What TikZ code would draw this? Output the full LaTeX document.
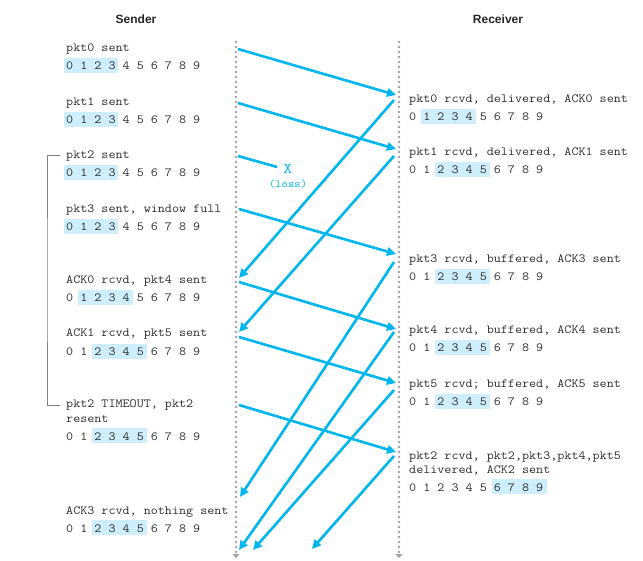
\documentclass[tikz,border=0pt]{standalone}
\usepackage{fontspec}
\setmainfont{Liberation Sans}
\newfontfamily\pktfont{Latin Modern Mono}[FakeStretch = 1.105]
\usetikzlibrary{positioning, calc, arrows.meta, backgrounds}
\definecolor{pktblue}{HTML}{00B6EF}
\definecolor{winblue}{HTML}{CDEEFA}
\definecolor{lanegray}{HTML}{A0A0A0}
\definecolor{txtgray}{HTML}{2E2E2E}
\newlength{\charw}
\setlength{\charw}{7.14pt}
\tikzset{
  > = {Triangle[length = 9pt, width = 8.5pt]},
  title/.style = {font = \normalfont\bfseries\fontsize{12}{14}\selectfont, text = black!85},
  event/.style = {font = \pktfont\fontsize{12.4}{14}\selectfont, text = txtgray,
    inner sep = 0, anchor = base west, align = left},
  seqrow/.style = {event},
  lane/.style = {lanegray, line width = 2.6pt, line cap = round,
    dash pattern = on 0pt off 5pt, -{Triangle[length = 4pt, width = 7pt]}},
  packet/.style = {->, pktblue, line width = 2.6pt},
  lost/.style = {pktblue, line width = 2.6pt},
  timer/.style = {draw = gray, line width = 0.8pt}
}
%% sequence numbers with the window shaded: name, base point, first, last
\newcommand {\seqwin} [4] {
  \node [seqrow] (#1) at (#2) {0 1 2 3 4 5 6 7 8 9};
  \begin{scope} [on background layer]
  \fill [winblue] ($(#1.base west)+({2*#3*\charw-2.5pt}, -3pt)$)
    rectangle ($(#1.base west)+({(2*#4+1)*\charw+2.5pt}, 12pt)$);
  \end{scope}
}

\begin{document}
\begin{tikzpicture}[x = 1pt, y = -1pt]
\useasboundingbox (0,0) rectangle (643,561);

%% Titles
\node [title] (sender) at (136,19) {Sender};
\node [title] (receiver) at (498,19) {Receiver};

%% Lanes
\coordinate (stop) at (236,42);
\coordinate (sbot) at (236,558);
\coordinate (rtop) at (399,42);
\coordinate (rbot) at (399,558);
\draw [lane] (stop) -- (sbot);
\draw [lane] (rtop) -- (rbot);

%% Sender events
\node [event] (s0) at (66,52) {pkt0 sent};
\seqwin{s0w}{66,70}{0}{3}
\node [event] (s1) at (66,106) {pkt1 sent};
\seqwin{s1w}{66,124}{0}{3}
\node [event] (s2) at (66,159) {pkt2 sent};
\seqwin{s2w}{66,177}{0}{3}
\node [event] (s3) at (66,213) {pkt3 sent, window full};
\seqwin{s3w}{66,231}{0}{3}
\node [event] (s4) at (66,284) {ACK0 rcvd, pkt4 sent};
\seqwin{s4w}{66,302}{1}{4}
\node [event] (s5) at (66,337) {ACK1 rcvd, pkt5 sent};
\seqwin{s5w}{66,356}{2}{5}
\node [event] (s6) at (66,422) {pkt2 TIMEOUT, pkt2\\resent};
\seqwin{s6w}{66,440}{2}{5}
\node [event] (s7) at (66,514) {ACK3 rcvd, nothing sent};
\seqwin{s7w}{66,532}{2}{5}

%% Receiver events
\node [event] (r0) at (409,103) {pkt0 rcvd, delivered, ACK0 sent};
\seqwin{r0w}{409,121}{1}{4}
\node [event] (r1) at (409,156) {pkt1 rcvd, delivered, ACK1 sent};
\seqwin{r1w}{409,174}{2}{5}
\node [event] (r3) at (409,263) {pkt3 rcvd, buffered, ACK3 sent};
\seqwin{r3w}{409,281}{2}{5}
\node [event] (r4) at (409,334) {pkt4 rcvd, buffered, ACK4 sent};
\seqwin{r4w}{409,352}{2}{5}
\node [event] (r5) at (409,388) {pkt5 rcvd; buffered, ACK5 sent};
\seqwin{r5w}{409,406}{2}{5}
\node [event] (r2) at (409,473) {pkt2 rcvd, pkt2,pkt3,pkt4,pkt5\\delivered, ACK2 sent};
\seqwin{r2w}{409,491}{6}{9}

%% Timer of pkt2
\coordinate (t0) at (60,155);
\coordinate (t1) at (60,405);
\draw [timer] (t0) -| (47,280) |- (t1);

%% Packets
\coordinate (p0s) at (238,49);  \coordinate (p0r) at (396,95);
\coordinate (p1s) at (238,103); \coordinate (p1r) at (396,149);
\coordinate (p2s) at (238,156); \coordinate (p2x) at (277,167);
\coordinate (p3s) at (239,209); \coordinate (p3r) at (396,254);
\coordinate (p4s) at (239,282); \coordinate (p4r) at (396,329);
\coordinate (p5s) at (239,337); \coordinate (p5r) at (396,383);
\coordinate (p6s) at (239,405); \coordinate (p6r) at (396,452);
\draw [packet] (p0s) -- (p0r);
\draw [packet] (p1s) -- (p1r);
\draw [lost] (p2s) -- (p2x);
\draw [packet] (p3s) -- (p3r);
\draw [packet] (p4s) -- (p4r);
\draw [packet] (p5s) -- (p5r);
\draw [packet] (p6s) -- (p6r);

%% Loss
\node [font = \pktfont\fontsize{15}{16}\selectfont, text = pktblue, inner sep = 0] (x) at (288,169) {X};
\node [font = \pktfont\fontsize{11}{12}\selectfont, text = pktblue, inner sep = 0] (loss) at (288,184) {(loss)};

%% ACKs
\coordinate (a0r) at (394,100); \coordinate (a0s) at (239,278);
\coordinate (a1r) at (394,156); \coordinate (a1s) at (239,332);
\coordinate (a3r) at (394,262); \coordinate (a3s) at (240,497);
\coordinate (a4r) at (394,332); \coordinate (a4s) at (239,550);
\coordinate (a5r) at (394,390); \coordinate (a5s) at (253,550);
\coordinate (a2r) at (394,456); \coordinate (a2s) at (312,549);
\draw [packet] (a0r) -- (a0s);
\draw [packet] (a1r) -- (a1s);
\draw [packet] (a3r) -- (a3s);
\draw [packet] (a4r) -- (a4s);
\draw [packet] (a5r) -- (a5s);
\draw [packet] (a2r) -- (a2s);

\end{tikzpicture}
\end{document}
